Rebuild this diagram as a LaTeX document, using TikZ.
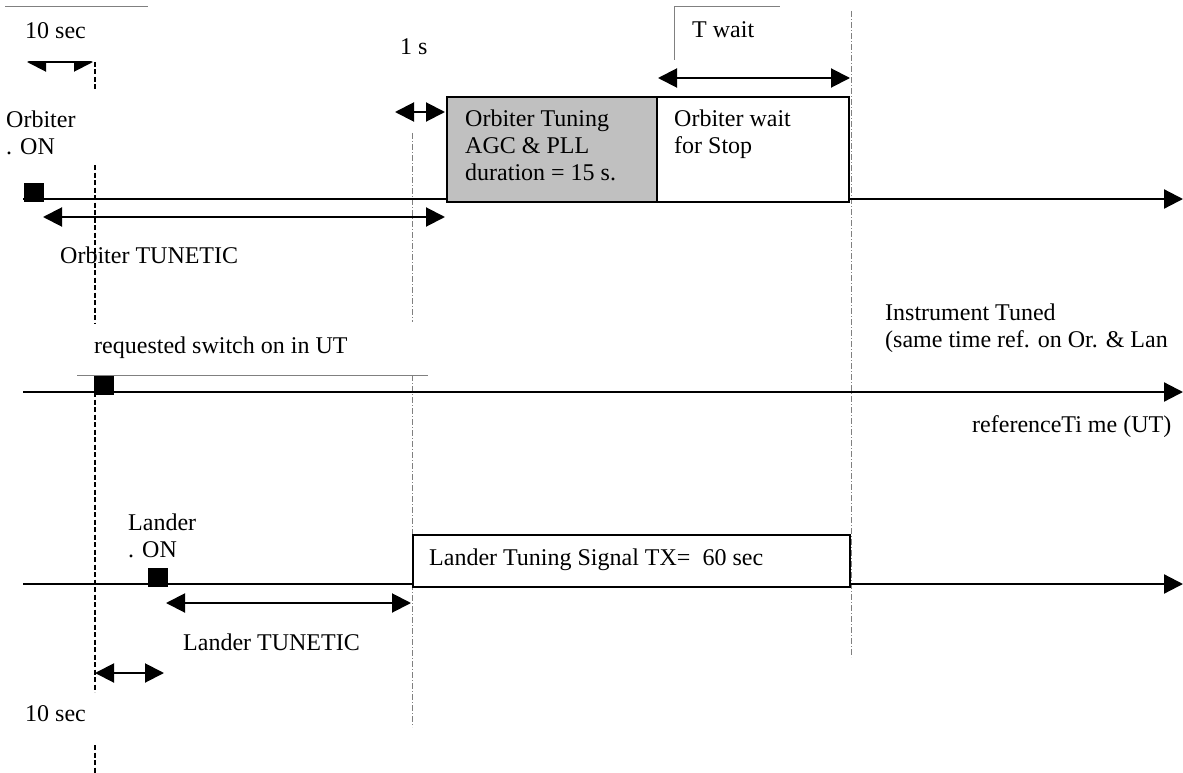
\documentclass[tikz,border=0pt]{standalone}
\usepackage{fontspec}
\setmainfont{Liberation Serif}
\usetikzlibrary{arrows.meta}
\definecolor{tunegray}{RGB}{192,192,192}
\begin{document}
\begin{tikzpicture}[x=1pt,y=-1pt,
  lbl/.style={font=\fontsize{24}{27}\selectfont,inner sep=0pt,anchor=base west},
  multilbl/.style={font=\fontsize{24}{27}\selectfont,inner sep=0pt,anchor=north west,align=left},
  tline/.style={line width=2.2pt,-{Triangle[length=19pt,width=19pt]}},
  span/.style={line width=2pt,{Triangle[length=19pt,width=19pt]}-{Triangle[length=19pt,width=19pt]}},
  onmark/.style={fill=black,draw=black,inner sep=0pt,minimum width=19pt,minimum height=18pt},
  tunebox/.style={draw=black,line width=2pt,inner sep=0pt,anchor=north west},
  guide/.style={gray,line width=0.6pt,dash pattern=on 6pt off 2pt on 1pt off 2pt},
  cutline/.style={line width=2.6pt,dash pattern=on 5pt off 2.5pt},
  boxedge/.style={gray,line width=0.7pt}]
  \useasboundingbox (0,0) rectangle (1183,773);
  \coordinate (oL) at (23,199);
  \coordinate (oR) at (1183,199);
  \coordinate (rL) at (23,392);
  \coordinate (rR) at (1183,392);
  \coordinate (lL) at (23,584);
  \coordinate (lR) at (1183,584);
  \draw[boxedge] (5,6) -- (148,6);
  \draw[boxedge] (674,60) -- (674,6) -- (780,6);
  \draw[boxedge] (77,375) -- (428,375);
  \draw[guide] (412,133) -- (412,322);
  \draw[guide] (412,375) -- (412,727);
  \draw[guide] (851,11) -- (851,657);
  \draw[cutline] (95,62) -- (95,90);
  \draw[cutline] (95,165) -- (95,323);
  \draw[cutline] (95,377) -- (95,692);
  \draw[cutline] (95,745) -- (95,773);
  \draw[tline] (oL) -- (oR);
  \draw[tline] (rL) -- (rR);
  \draw[tline] (lL) -- (lR);
  \node[tunebox,fill=tunegray,minimum width=210pt,minimum height=105pt] (orbTuneBox) at (446,96) {};
  \node[tunebox,fill=white,minimum width=192pt,minimum height=105pt] (orbWaitBox) at (656,96) {};
  \node[tunebox,fill=white,minimum width=437pt,minimum height=52pt] (landSigBox) at (412,534) {};
  \node[onmark] (orbMark) at (33.5,192) {};
  \node[onmark] (refMark) at (103.5,385.5) {};
  \node[onmark] (landMark) at (157.5,577) {};
  \node[lbl] (tenTop) at (25,39) {10 sec};
  \node[lbl] (oneS) at (400,55) {1 s};
  \node[lbl] (tWait) at (692,38) {T wait};
  \node[multilbl] (orbOn) at (6,110.5) {Orbiter\\. ON};
  \node[multilbl] (orbTuneTxt) at (465,110) {Orbiter Tuning\\AGC \& PLL\\duration = 15 s.};
  \node[multilbl] (orbWaitTxt) at (674,110) {Orbiter wait\\for Stop};
  \node[lbl] (orbTunetic) at (60,263) {Orbiter TUNETIC};
  \node[multilbl] (instrTuned) at (885,304) {Instrument Tuned\\(same time ref. on Or. \& Lan};
  \node[lbl] (reqSwitch) at (94,353) {requested switch on in UT};
  \node[lbl] (refTime) at (972,432) {referenceTi me (UT)};
  \node[multilbl] (landOn) at (128,514) {Lander\\. ON};
  \node[lbl] (landSig) at (429,565) {Lander Tuning Signal TX=\ \ 60 sec};
  \node[lbl] (landTunetic) at (183,650) {Lander TUNETIC};
  \node[lbl] (tenBot) at (25,721) {10 sec};
  \coordinate (tenTopA) at (27,62);
  \coordinate (tenTopB) at (93,62);
  \coordinate (oneSA) at (395,112);
  \coordinate (oneSB) at (445,112);
  \coordinate (tWaitA) at (658,78);
  \coordinate (tWaitB) at (850,78);
  \coordinate (orbTuneA) at (43,217);
  \coordinate (orbTuneB) at (445,217);
  \coordinate (landTuneA) at (166,603);
  \coordinate (landTuneB) at (411,603);
  \coordinate (tenBotA) at (95,673);
  \coordinate (tenBotB) at (164,673);
  \begin{scope}
    \clip (0,62) rectangle (200,80);
    \draw[span] (tenTopA) -- (tenTopB);
  \end{scope}
  \draw[span] (oneSA) -- (oneSB);
  \draw[span] (tWaitA) -- (tWaitB);
  \draw[span] (orbTuneA) -- (orbTuneB);
  \draw[span] (landTuneA) -- (landTuneB);
  \draw[span] (tenBotA) -- (tenBotB);
\end{tikzpicture}
\end{document}
